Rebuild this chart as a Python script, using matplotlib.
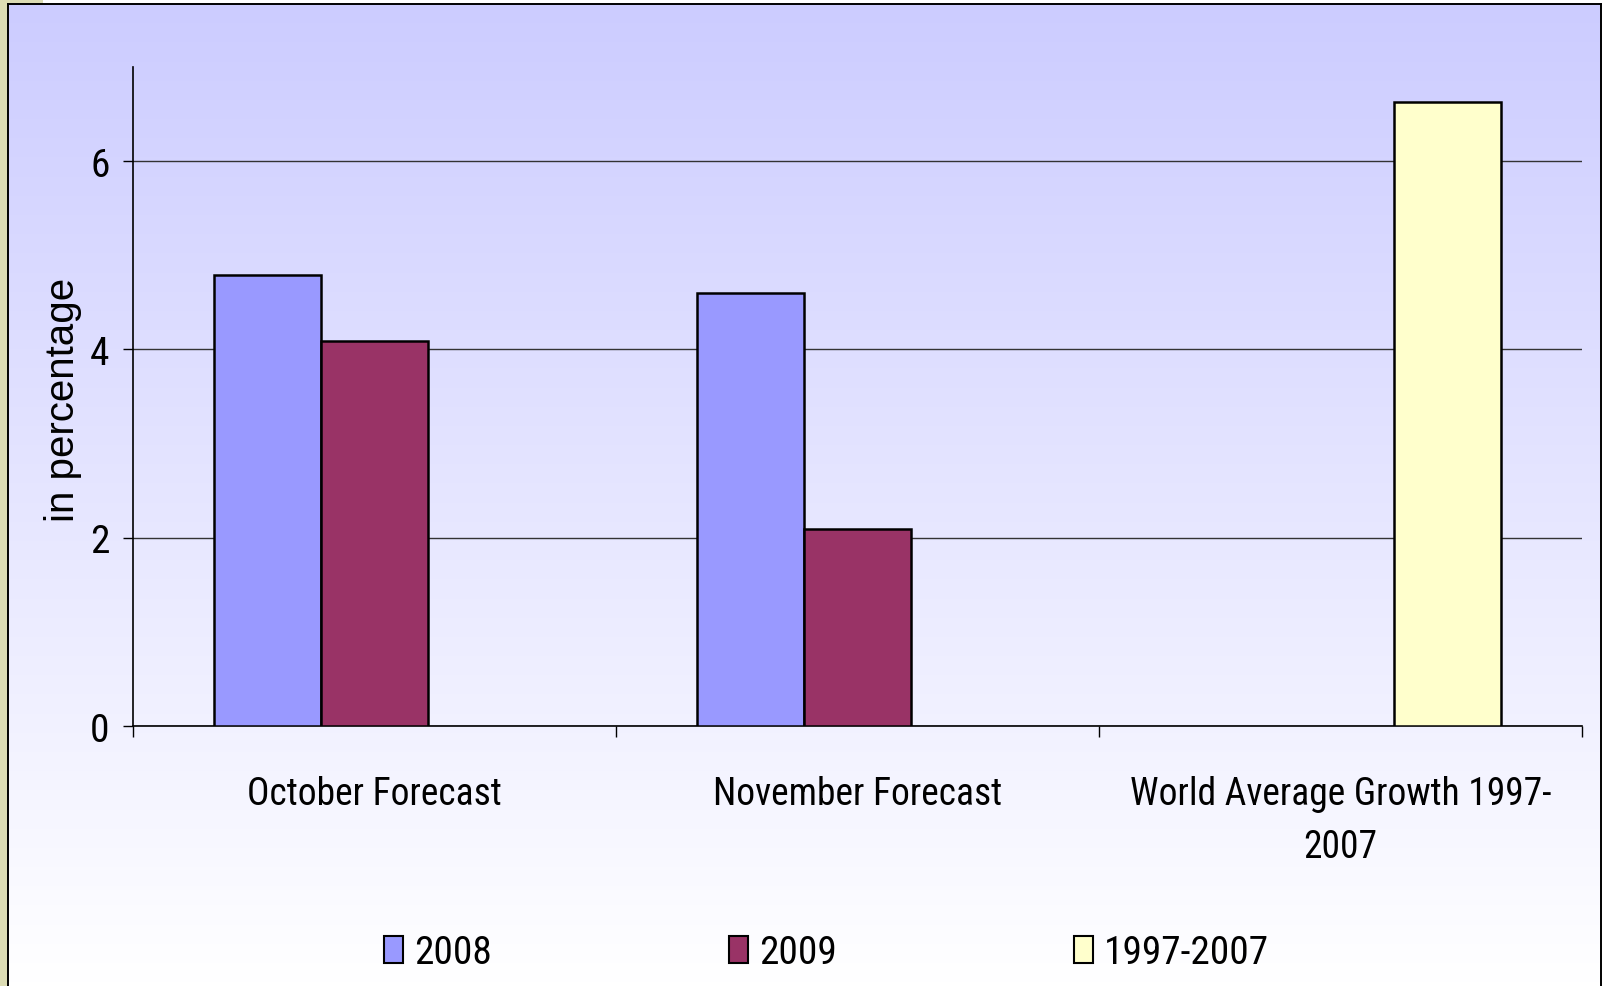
import numpy as np
import matplotlib
matplotlib.use("Agg")
import matplotlib.pyplot as plt
from matplotlib import font_manager
from matplotlib.patches import Patch, Rectangle
from matplotlib.lines import Line2D
from matplotlib.colors import LinearSegmentedColormap

categories = ["October Forecast", "November Forecast", "World Average Growth 1997-\n2007"]
series_names = ["2008", "2009", "1997-2007"]
s2008 = [4.79, 4.6, np.nan]
s2009 = [4.09, 2.09, np.nan]
s9707 = [np.nan, np.nan, 6.63]
yticks = [0, 2, 4, 6]

colors = ["#9999FF", "#993366", "#FFFFCC"]

# pick a narrow font if one exists
names = {f.name for f in font_manager.fontManager.ttflist}
narrow = None
for cand in ["Liberation Sans Narrow", "Arial Narrow", "Nimbus Sans Narrow",
             "Roboto Condensed", "Open Sans Condensed"]:
    if cand in names:
        narrow = cand
        break
NARROW = [narrow, "Liberation Sans", "DejaVu Sans"] if narrow else ["Liberation Sans", "DejaVu Sans"]
REG = ["Liberation Sans", "DejaVu Sans"]

W, H = 1604, 987
fig = plt.figure(figsize=(W / 100, H / 100), dpi=100)
fig.patch.set_facecolor("white")
renderer = fig.canvas.get_renderer()


def text_width(s, size):
    t = fig.text(0, 0, s, family=NARROW, fontsize=size)
    wpx = t.get_window_extent(renderer).width
    t.remove()
    return wpx


# size the narrow text so "October Forecast" is ~255 px wide
FS = 20 * 255.0 / text_width("October Forecast", 20)
em_px = FS * 100 / 72.0
LS = 53.0 / (0.9 * em_px)
FS2 = FS * 1.05
em2 = FS2 * 100 / 72.0

# background gradient panel
bg = fig.add_axes([8 / W, 0, (1601 - 8) / W, 1 - 5 / H], zorder=-10)
grad = np.linspace(0, 1, 256).reshape(-1, 1)
cmap = LinearSegmentedColormap.from_list("g", ["#CCCCFF", "#FFFFFF"])
bg.imshow(grad, aspect="auto", cmap=cmap, extent=[0, 1, 0, 1], origin="upper")
bg.set_axis_off()

# beige strip on the left
fig.patches.append(Rectangle((0, 0), 8 / W, 1, transform=fig.transFigure,
                             facecolor="#DCDCB4", edgecolor="none", zorder=-9))
fig.patches.append(Rectangle((0, 1 - 5 / H), 43 / W, 5 / H, transform=fig.transFigure,
                             facecolor="#DCDCB4", edgecolor="none", zorder=-9))
# border lines
for xs, ys in [([8 / W, 8 / W], [0, 1 - 5 / H]),
               ([8 / W, 1601 / W], [1 - 5 / H, 1 - 5 / H]),
               ([1601 / W, 1601 / W], [0, 1 - 5 / H])]:
    fig.lines.append(Line2D(xs, ys, transform=fig.transFigure, color="black",
                            linewidth=1.4, zorder=5))

ax = fig.add_axes([133 / W, 1 - 727 / H, (1582 - 133) / W, (727 - 68) / H])
ax.set_facecolor("none")

x = np.arange(len(categories))
w = (1 - 0.335) / 3
for i, (vals, c, name) in enumerate(zip([s2008, s2009, s9707], colors, series_names)):
    vals = np.asarray(vals, dtype=float)
    m = ~np.isnan(vals)
    ax.bar(x[m] + (i - 1) * w, vals[m], width=w, color=c, edgecolor="black",
           linewidth=1.8, label=name, zorder=3)

ax.set_xlim(-0.5, len(categories) - 0.5)
ax.set_ylim(0, 7)
ax.set_yticks(yticks)
ax.set_yticklabels([str(v) for v in yticks], family=NARROW, fontsize=FS2)
ax.yaxis.grid(True, color="#333333", linewidth=1.0)
ax.set_axisbelow(True)

ax.set_xticks(np.arange(-0.5, len(categories), 1.0))
ax.set_xticklabels([])
ax.set_xticks(x, minor=True)
ax.set_xticklabels(categories, minor=True, family=NARROW, fontsize=FS,
                   linespacing=LS)
ax.tick_params(axis="x", which="major", direction="out", length=8, width=1, color="black")
ax.tick_params(axis="x", which="minor", length=0, pad=35)
ax.tick_params(axis="y", direction="out", length=7, width=1, color="black", pad=10)

for s in ["top", "right"]:
    ax.spines[s].set_visible(False)
for s in ["left", "bottom"]:
    ax.spines[s].set_color("black")
    ax.spines[s].set_linewidth(1.2)

fig.text(63 / W, 1 - 400 / H, "in percentage", rotation=90, ha="center", va="center",
         family=REG, fontsize=29)

# legend: handles at 384, 729, 1074 px
hl, ht = 19.0, 11.0
w08 = text_width(series_names[0], FS2)
colsp = (345.0 - hl - ht - w08) / em2
handles = [Patch(facecolor=c, edgecolor="black", linewidth=1.5) for c in colors]
fig.legend(handles, series_names, loc="center left", bbox_to_anchor=(384 / W, 1 - 954 / H),
           ncol=3, frameon=False, prop={"family": NARROW, "size": FS2},
           handlelength=hl / em2, handleheight=27 / em2, handletextpad=ht / em2,
           columnspacing=colsp, borderpad=0, borderaxespad=0)

fig.savefig("out.png", dpi=100)
